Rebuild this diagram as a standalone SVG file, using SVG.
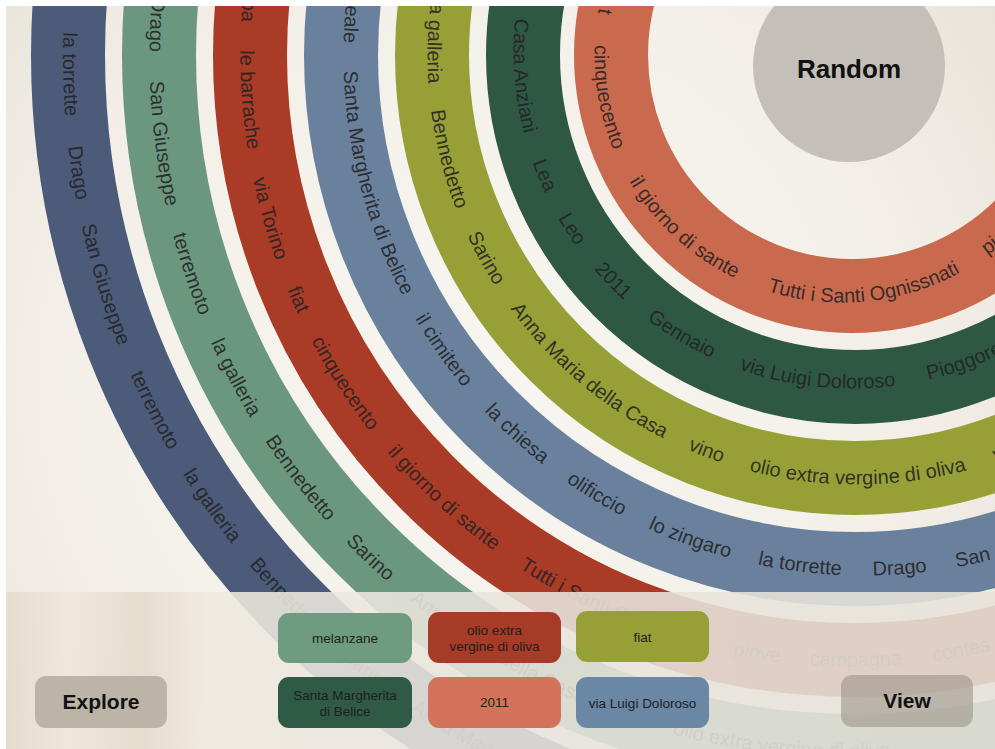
<svg xmlns="http://www.w3.org/2000/svg" xmlns:xlink="http://www.w3.org/1999/xlink" width="995" height="749" viewBox="0 0 995 749">
<defs>
<radialGradient id="bg" cx="480" cy="380" r="720" gradientUnits="userSpaceOnUse">
<stop offset="0" stop-color="#f8f6f1"/>
<stop offset="0.6" stop-color="#f3efe8"/>
<stop offset="1" stop-color="#e5dfd3"/>
</radialGradient>
<linearGradient id="panel" x1="0" y1="0" x2="995" y2="0" gradientUnits="userSpaceOnUse">
<stop offset="0" stop-color="#e3d9ca"/>
<stop offset="0.07" stop-color="#eee7db"/>
<stop offset="0.14" stop-color="#e4dacb"/>
<stop offset="0.21" stop-color="#efeae0"/>
<stop offset="0.5" stop-color="#e9e5dd"/>
<stop offset="1" stop-color="#e7e3db"/>
</linearGradient>
<path id="p1" d="M855,-737 A792,792 0 1 0 855,847 A792,792 0 1 0 855,-737"/>
<path id="p2" d="M852,-647.5 A702.5,702.5 0 1 0 852,757.5 A702.5,702.5 0 1 0 852,-647.5"/>
<path id="p3" d="M852,-556.5 A611.5,611.5 0 1 0 852,666.5 A611.5,611.5 0 1 0 852,-556.5"/>
<path id="p4" d="M864,-465.5 A520.5,520.5 0 1 0 864,575.5 A520.5,520.5 0 1 0 864,-465.5"/>
<path id="p5" d="M857,-374.5 A429.5,429.5 0 1 0 857,484.5 A429.5,429.5 0 1 0 857,-374.5"/>
<path id="p6" d="M852,-288.5 A338.5,338.5 0 1 0 852,388.5 A338.5,338.5 0 1 0 852,-288.5"/>
<path id="p7" d="M842,-192.5 A247.5,247.5 0 1 0 842,302.5 A247.5,247.5 0 1 0 842,-192.5"/>
</defs>
<style>
.ring{fill:none;stroke-width:74}
.w{font-family:"Liberation Sans",Arial,sans-serif;font-size:20px;fill:#222;fill-opacity:0.88}
.tag{font-family:"Liberation Sans",Arial,sans-serif;font-size:13.5px;fill:#1e1e1e;text-anchor:middle}
.btn{font-family:"Liberation Sans",Arial,sans-serif;font-weight:bold;font-size:21px;fill:#111;text-anchor:middle}
.big{font-size:26px}
</style>
<rect x="0" y="0" width="995" height="749" fill="url(#bg)"/>
<g id="rings">
<circle class="ring" cx="855" cy="55" r="787" stroke="#4b5b79"/>
<circle class="ring" cx="855" cy="55" r="696" stroke="#6c977f"/>
<circle class="ring" cx="855" cy="55" r="605" stroke="#a93b27"/>
<circle class="ring" cx="855" cy="55" r="514" stroke="#6a819d"/>
<circle class="ring" cx="855" cy="55" r="423" stroke="#97a036"/>
<circle class="ring" cx="855" cy="55" r="332" stroke="#2f5844"/>
<circle class="ring" cx="852" cy="55" r="241" stroke="#c96a4f"/>
</g>
<g id="ring-labels" class="w" text-anchor="middle">
<text><textPath xlink:href="#p1" startOffset="1263.5">la torrette</textPath></text>
<text><textPath xlink:href="#p1" startOffset="1363">Drago</textPath></text>
<text><textPath xlink:href="#p1" startOffset="1479">San Giuseppe</textPath></text>
<text><textPath xlink:href="#p1" startOffset="1615.5">terremoto</textPath></text>
<text><textPath xlink:href="#p1" startOffset="1728">la galleria</textPath></text>
<text><textPath xlink:href="#p1" startOffset="1849">Bennedetto</textPath></text>
<text><textPath xlink:href="#p1" startOffset="1958">Sarino</textPath></text>
<text><textPath xlink:href="#p1" startOffset="2117">Anna Maria della Casa</textPath></text>
<text><textPath xlink:href="#p2" startOffset="1073">Drago</textPath></text>
<text><textPath xlink:href="#p2" startOffset="1193">San Giuseppe</textPath></text>
<text><textPath xlink:href="#p2" startOffset="1328">terremoto</textPath></text>
<text><textPath xlink:href="#p2" startOffset="1442">la galleria</textPath></text>
<text><textPath xlink:href="#p2" startOffset="1563">Bennedetto</textPath></text>
<text><textPath xlink:href="#p2" startOffset="1670">Sarino</textPath></text>
<text><textPath xlink:href="#p2" startOffset="1829">Anna Maria della Casa</textPath></text>
<text><textPath xlink:href="#p2" startOffset="2135">olio extra vergine di oliva</textPath></text>
<text><textPath xlink:href="#p3" startOffset="916">ba</textPath></text>
<text><textPath xlink:href="#p3" startOffset="1006">le barrache</textPath></text>
<text><textPath xlink:href="#p3" startOffset="1128">via Torino</textPath></text>
<text><textPath xlink:href="#p3" startOffset="1215">fiat</textPath></text>
<text><textPath xlink:href="#p3" startOffset="1312">cinquecento</textPath></text>
<text><textPath xlink:href="#p3" startOffset="1466">il giorno di sante</textPath></text>
<text><textPath xlink:href="#p3" startOffset="1669">Tutti i Santi Ognissnati</textPath></text>
<text><textPath xlink:href="#p3" startOffset="1825">piove</textPath></text>
<text><textPath xlink:href="#p3" startOffset="1925">campagna</textPath></text>
<text><textPath xlink:href="#p3" startOffset="2032">contes</textPath></text>
<text><textPath xlink:href="#p4" startOffset="783">reale</textPath></text>
<text><textPath xlink:href="#p4" startOffset="951">Santa Margherita di Belice</textPath></text>
<text><textPath xlink:href="#p4" startOffset="1136">il cimitero</textPath></text>
<text><textPath xlink:href="#p4" startOffset="1249">la chiesa</textPath></text>
<text><textPath xlink:href="#p4" startOffset="1350.5">olificcio</textPath></text>
<text><textPath xlink:href="#p4" startOffset="1455.5">lo zingaro</textPath></text>
<text><textPath xlink:href="#p4" startOffset="1570">la torrette</textPath></text>
<text><textPath xlink:href="#p4" startOffset="1671">Drago</textPath></text>
<text><textPath xlink:href="#p4" startOffset="1791.5">San Giuseppe</textPath></text>
<text><textPath xlink:href="#p5" startOffset="660.5">la galleria</textPath></text>
<text><textPath xlink:href="#p5" startOffset="781.5">Bennedetto</textPath></text>
<text><textPath xlink:href="#p5" startOffset="889.5">Sarino</textPath></text>
<text><textPath xlink:href="#p5" startOffset="1047">Anna Maria della Casa</textPath></text>
<text><textPath xlink:href="#p5" startOffset="1193">vino</textPath></text>
<text><textPath xlink:href="#p5" startOffset="1350">olio extra vergine di oliva</textPath></text>
<text><textPath xlink:href="#p5" startOffset="1495">v</textPath></text>
<text><textPath xlink:href="#p6" startOffset="558">Casa Anziani</textPath></text>
<text><textPath xlink:href="#p6" startOffset="662.5">Lea</textPath></text>
<text><textPath xlink:href="#p6" startOffset="724">Leo</textPath></text>
<text><textPath xlink:href="#p6" startOffset="791.5">2011</textPath></text>
<text><textPath xlink:href="#p6" startOffset="880.5">Gennaio</textPath></text>
<text><textPath xlink:href="#p6" startOffset="1027.5">via Luigi Doloroso</textPath></text>
<text><textPath xlink:href="#p6" startOffset="1180">Pioggore</textPath></text>
<text><textPath xlink:href="#p7" startOffset="344">t</textPath></text>
<text><textPath xlink:href="#p7" startOffset="432.5">cinquecento</textPath></text>
<text><textPath xlink:href="#p7" startOffset="594">il giorno di sante</textPath></text>
<text><textPath xlink:href="#p7" startOffset="801">Tutti i Santi Ognissnati</textPath></text>
<text><textPath xlink:href="#p7" startOffset="956.5">piove</textPath></text>
</g>
<g id="random">
<circle cx="849" cy="66" r="96" fill="#c4c0b8"/>
<text x="849" y="78" class="btn big">Random</text>
</g>
<rect id="panel-overlay" x="0" y="592" width="995" height="157" fill="url(#panel)" fill-opacity="0.88"/>
<g id="tag-melanzane">
<rect x="278" y="613" width="134" height="50" rx="11" fill="#6f9b81"/>
<text x="345" y="643" class="tag">melanzane</text>
</g>
<g id="tag-olio">
<rect x="428" y="612" width="133" height="51" rx="11" fill="#a63c28"/>
<text x="494.5" y="635" class="tag">olio extra</text>
<text x="494.5" y="651" class="tag">vergine di oliva</text>
</g>
<g id="tag-fiat">
<rect x="576" y="611" width="133" height="51" rx="11" fill="#97a036"/>
<text x="642.5" y="642" class="tag">fiat</text>
</g>
<g id="tag-santa">
<rect x="278" y="677" width="134" height="51" rx="11" fill="#2f5a46"/>
<text x="345" y="700" class="tag">Santa Margherita</text>
<text x="345" y="716" class="tag">di Belice</text>
</g>
<g id="tag-2011">
<rect x="428" y="677" width="133" height="51" rx="11" fill="#d3735b"/>
<text x="494.5" y="707" class="tag">2011</text>
</g>
<g id="tag-via">
<rect x="576" y="677" width="133" height="51" rx="11" fill="#6b87a6"/>
<text x="642.5" y="708" class="tag">via Luigi Doloroso</text>
</g>
<g id="explore">
<rect x="35" y="676" width="132" height="52" rx="11" fill="#bcb5a7"/>
<text x="101" y="709" class="btn">Explore</text>
</g>
<g id="view">
<rect x="841" y="675" width="132" height="52" rx="11" fill="#9c948a" fill-opacity="0.6"/>
<text x="907" y="708" class="btn">View</text>
</g>
<rect x="0" y="0" width="995" height="6" fill="#ffffff"/>
<rect x="0" y="0" width="6" height="749" fill="#ffffff"/>
</svg>
